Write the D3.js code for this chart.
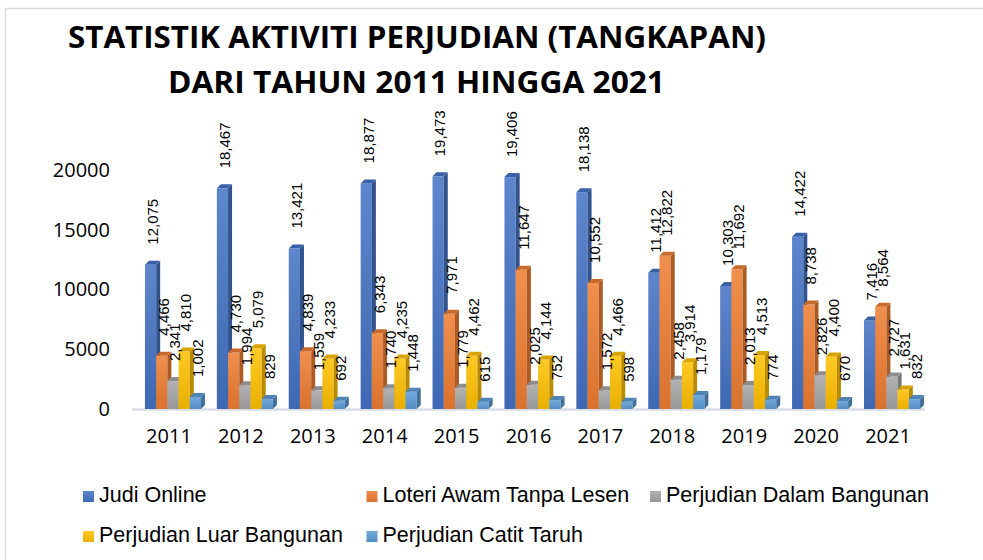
<!DOCTYPE html>
<html>
<head>
<meta charset="utf-8">
<script src="https://cdn.jsdelivr.net/npm/d3@7"></script>
<style>
  html, body { margin: 0; padding: 0; background: #fff; }
  svg { display: block; }
</style>
</head>
<body>
<svg id="chart" width="983" height="560"></svg>
<script>
// Statistik aktiviti perjudian (tangkapan) 2011-2021, 3D-ish clustered columns.

const years = ["2011", "2012", "2013", "2014", "2015", "2016", "2017", "2018", "2019", "2020", "2021"];
const seriesNames = [
  "Judi Online",
  "Loteri Awam Tanpa Lesen",
  "Perjudian Dalam Bangunan",
  "Perjudian Luar Bangunan",
  "Perjudian Catit Taruh",
];
const judiOnline = [12075, 18467, 13421, 18877, 19473, 19406, 18138, 11412, 10303, 14422, 7416];
const loteri = [4466, 4730, 4839, 6343, 7971, 11647, 10552, 12822, 11692, 8738, 8564];
const dalamBangunan = [2341, 1994, 1559, 1740, 1779, 2025, 1572, 2458, 2013, 2826, 2727];
const luarBangunan = [4810, 5079, 4233, 4235, 4462, 4144, 4466, 3914, 4513, 4400, 1631];
const catitTaruh = [1002, 829, 692, 1448, 615, 752, 598, 1179, 774, 670, 832];
const yTicks = [0, 5000, 10000, 15000, 20000];
const colors = ["#4472C4", "#ED7D31", "#A5A5A5", "#FFC000", "#5B9BD5"];

const seriesValues = [judiOnline, loteri, dalamBangunan, luarBangunan, catitTaruh];

const svg = d3.select("#chart");
const W = 983, H = 560;
const margin = { left: 132, right: 50, top: 170, baseline: 409 };
const floorEnd = 925;
const depth = { dx: 4, dy: -4 };

// chart frame (light border top + left)
svg.append("path")
  .attr("d", `M5.5,${H} V8.5 H${W}`)
  .attr("fill", "none")
  .attr("stroke", "#d9d9d9")
  .attr("stroke-width", 1.5);

// title
const title = svg.append("g").attr("font-family", "'Open Sans', sans-serif").attr("font-weight", 700)
  .attr("font-size", 30).attr("fill", "#000").attr("text-anchor", "middle");
title.append("text").attr("x", 417).attr("y", 48)
  .attr("textLength", 698).attr("lengthAdjust", "spacingAndGlyphs")
  .text("STATISTIK AKTIVITI PERJUDIAN (TANGKAPAN)");
title.append("text").attr("x", 416.5).attr("y", 93)
  .attr("textLength", 497).attr("lengthAdjust", "spacingAndGlyphs")
  .text("DARI TAHUN 2011 HINGGA 2021");

// scales
const x = d3.scaleBand().domain(years).range([margin.left, W - margin.right])
  .paddingInner(0.22).paddingOuter(0.18);
const xs = d3.scaleBand().domain(d3.range(seriesNames.length)).range([0, x.bandwidth()]);
const y = d3.scaleLinear().domain([0, 20000]).range([margin.baseline, margin.top]);

// gradients
const defs = svg.append("defs");
colors.forEach((c, i) => {
  const g = defs.append("linearGradient").attr("id", "grad" + i)
    .attr("x1", 0).attr("y1", 0).attr("x2", 0).attr("y2", 1);
  g.append("stop").attr("offset", "0%").attr("stop-color", d3.interpolateRgb(c, "#fff")(0.14));
  g.append("stop").attr("offset", "100%").attr("stop-color", d3.color(c).darker(0.25));
});

// y axis labels
const yAxis = svg.append("g").attr("transform", "translate(110,0)")
  .call(d3.axisLeft(y).tickValues(yTicks).tickFormat(d3.format("d")).tickSize(0).tickPadding(0));
yAxis.select(".domain").remove();
yAxis.selectAll("text").attr("font-family", "'Open Sans', sans-serif").attr("font-size", 20).attr("fill", "#000");

// floor line
svg.append("line")
  .attr("x1", margin.left).attr("x2", floorEnd)
  .attr("y1", margin.baseline + 0.5).attr("y2", margin.baseline + 0.5)
  .attr("stroke", "#d9dde4").attr("stroke-width", 2.5);

// x axis labels
const xAxis = svg.append("g").attr("transform", `translate(-4,${margin.baseline + 20})`)
  .call(d3.axisBottom(x).tickSize(0).tickPadding(0));
xAxis.select(".domain").remove();
xAxis.selectAll("text").attr("font-family", "'Open Sans', sans-serif").attr("font-size", 20)
  .attr("fill", "#000").attr("dy", "0.71em");

// bars (drawn left to right so each front face covers the previous side face)
const bars = svg.append("g");
years.forEach((yr, yi) => {
  seriesValues.forEach((vals, si) => {
    const v = vals[yi];
    const x0 = x(yr) + xs(si);
    const w = xs.bandwidth();
    const top = y(v);
    const bottom = y(0);
    const c = d3.color(colors[si]);
    // front
    bars.append("rect").attr("x", x0).attr("y", top).attr("width", w).attr("height", bottom - top)
      .attr("fill", `url(#grad${si})`);
    // side
    bars.append("path")
      .attr("d", `M${x0 + w},${top} L${x0 + w + depth.dx},${top + depth.dy} L${x0 + w + depth.dx},${bottom + depth.dy} L${x0 + w},${bottom} Z`)
      .attr("fill", c.darker(0.9));
    // top
    bars.append("path")
      .attr("d", `M${x0},${top} L${x0 + depth.dx},${top + depth.dy} L${x0 + w + depth.dx},${top + depth.dy} L${x0 + w},${top} Z`)
      .attr("fill", c.darker(0.45));
  });
});

// data labels
const labels = svg.append("g").attr("font-family", "'Liberation Sans', Arial, sans-serif")
  .attr("font-size", 15).attr("fill", "#000");
years.forEach((yr, yi) => {
  seriesValues.forEach((vals, si) => {
    const v = vals[yi];
    const cx = x(yr) + xs(si) + xs.bandwidth() / 2 + depth.dx / 2;
    const cy = y(v) - 20;
    labels.append("text")
      .attr("transform", `translate(${cx},${cy}) rotate(-90)`)
      .attr("dy", "0.35em")
      .text(d3.format(",")(v));
  });
});

// legend
const legend = svg.append("g").attr("font-family", "'Liberation Sans', Arial, sans-serif")
  .attr("font-size", 21.5).attr("fill", "#000");
seriesNames.forEach((name, i) => {
  const col = i < 3 ? i : i - 3;
  const row = i < 3 ? 0 : 1;
  const lx = 83 + col * 283.5;
  const ly = 491 + row * 40;
  legend.append("rect").attr("x", lx).attr("y", ly).attr("width", 11).attr("height", 11)
    .attr("fill", `url(#grad${i})`);
  legend.append("text").attr("x", lx + 16).attr("y", ly + 11).text(name);
});
</script>
</body>
</html>
